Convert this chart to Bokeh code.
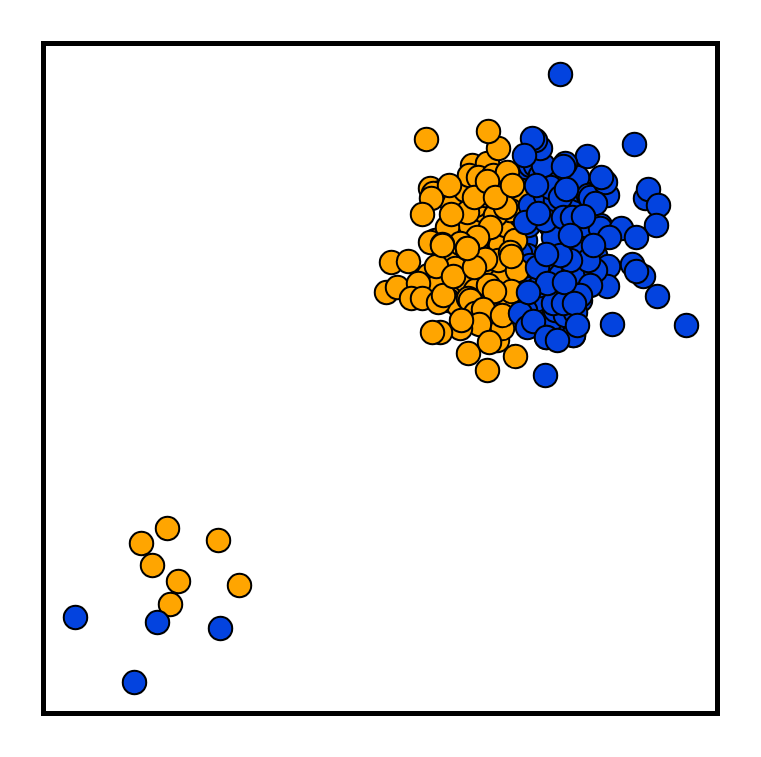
from bokeh.plotting import figure
from bokeh.models import Range1d
from bokeh.embed import file_html
from bokeh.resources import INLINE

blue_back_x = [518,522,520,525,527,522,525,523,530,528,532,526,523,520,530]
blue_back_y = [175,190,205,240,255,270,285,300,165,225,215,310,270,253,265]

orange_x = [445,455,470,480,490,500,460,450,440,500,505,515,520,520,510,460,455,470,482,480,460,495,510,490,
  430,440,450,465,475,485,495,435,445,455,465,475,485,428,438,448,458,468,478,488,498,
  472,487,469,478,493,507,505,467,490,447,477,460,430,442,467,510,492,
  433,449,431,422,451,474,487,495,512,
  391,408,386,397,418,411,422,438,443,470,475,497,485,517,511,
  436,453,474,442,467,494,511,483,479,460,502,468,515,440,432,461,489,487,502,
  426,498,488,
  167,141,218,152,178,239,170]
orange_y = [250,260,285,275,268,280,285,295,290,245,225,240,215,195,210,195,230,225,210,255,270,305,300,315,
  188,192,200,190,205,195,215,240,255,268,280,290,300,275,285,300,305,298,310,285,260,
  165,163,175,177,175,172,207,212,227,227,237,243,242,244,248,252,192,
  193,185,198,214,214,197,181,197,185,
  262,261,292,287,283,298,298,302,295,300,313,340,259,270,291,
  266,276,267,245,248,291,256,309,324,328,328,353,356,332,332,320,342,370,315,
  139,148,131,
  528,543,540,565,581,585,604]

blue_x = [530,540,550,560,570,580,590,600,575,555,545,535,525,565,585,595,550,535,540,560,580,570,
  545,555,565,575,585,595,550,560,570,580,555,540,565,575,
  537,553,550,560,577,600,588,590,607,605,601,587,543,540,535,
  645,648,658,656,621,636,609,
  632,643,636,608,607,657,612,686,634,560,545,
  520,527,546,553,563,547,573,583,595,590,580,588,570,560,573,
  532,524,565,563,566,536,595,545,525,538,563,572,583,570,593,
  528,533,564,546,574,573,546,577,557,
  75,157,220,134]
blue_y = [205,215,225,210,205,240,215,225,250,270,290,300,310,320,250,235,320,165,175,180,190,230,
  195,200,230,245,225,255,265,275,285,300,310,285,315,312,
  267,237,187,197,177,228,195,197,195,182,177,156,165,148,140,
  198,189,205,225,228,237,237,
  264,276,271,266,286,296,324,325,144,74,375,
  313,327,337,303,303,283,273,273,270,285,295,260,260,255,335,
  138,155,163,166,189,185,203,220,222,213,217,217,216,235,245,
  292,321,282,254,303,335,337,325,340,
  617,622,628,682]

W, H = 747, 743
p = figure(width=W, height=H, output_backend="svg", toolbar_location=None,
           x_range=Range1d(43, 717), y_range=Range1d(713, 43),
           x_axis_location=None, y_axis_location=None,
           min_border_left=43, min_border_right=30, min_border_top=43, min_border_bottom=30,
           background_fill_color="white", border_fill_color="white")
p.grid.visible = False
p.outline_line_color = "black"
p.outline_line_width = 5
p.outline_line_join = "miter"
STYLE = dict(size=23.5, line_color="black", line_width=2)
p.scatter(blue_back_x, blue_back_y, fill_color="#0343DF", **STYLE)
p.scatter(orange_x, orange_y, fill_color="#FFA500", **STYLE)
p.scatter(blue_x, blue_y, fill_color="#0343DF", **STYLE)
open("out.html", "w").write(file_html(p, INLINE))
